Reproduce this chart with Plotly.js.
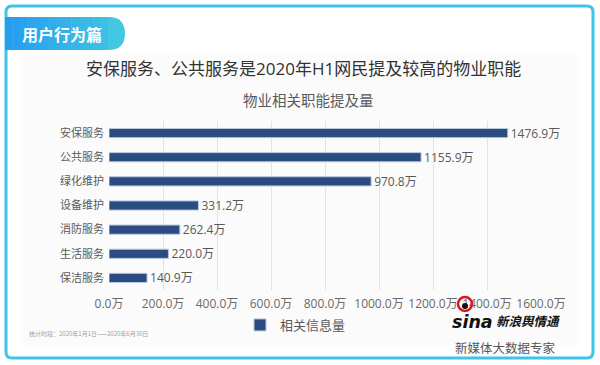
<!DOCTYPE html>
<html>
<head>
<meta charset="utf-8">
<script src="https://cdn.plot.ly/plotly-3.0.1.min.js"></script>
<style>
html,body{margin:0;padding:0;background:#fff;}
#chart{width:600px;height:365px;}
</style>
</head>
<body>
<div id="chart"></div>
<script>
// ---- data ----
const categories = ["安保服务", "公共服务", "绿化维护", "设备维护", "消防服务", "生活服务", "保洁服务"];
const values = [1476.9, 1155.9, 970.8, 331.2, 262.4, 220.0, 140.9];
const tickValues = [0, 200, 400, 600, 800, 1000, 1200, 1400, 1600];
const tickLabels = ["0.0万", "200.0万", "400.0万", "600.0万", "800.0万", "1000.0万", "1200.0万", "1400.0万", "1600.0万"];
const seriesName = "相关信息量";
const badgeText = "用户行为篇";
const titleText = "安保服务、公共服务是2020年H1网民提及较高的物业职能";
const subtitleText = "物业相关职能提及量";
const footnoteText = "统计时段：2020年1月1日——2020年6月30日";
const sloganText = "新媒体大数据专家";

// ---- geometry helpers (pixel -> paper) ----
const W = 600, H = 365;
const M = {l: 109, r: 59, t: 121, b: 75};
const PW = W - M.l - M.r, PH = H - M.t - M.b;
const px = x => (x - M.l) / PW;
const py = y => 1 - (y - M.t) / PH;

const FONT = "Open Sans, Noto Sans CJK SC, sans-serif";
const CJK = "Noto Sans CJK SC, sans-serif";

const shapes = [];
// light background panel
shapes.push({type: "rect", xref: "paper", yref: "paper", layer: "below",
  x0: px(20), x1: px(580), y0: py(55), y1: py(345),
  fillcolor: "#fbfbfb", line: {width: 0}});

// rounded border
function roundRect(x0, y0, x1, y1, r) {
  const X = px, Y = py;
  return `M${X(x0 + r)},${Y(y0)} L${X(x1 - r)},${Y(y0)} Q${X(x1)},${Y(y0)} ${X(x1)},${Y(y0 + r)} ` +
    `L${X(x1)},${Y(y1 - r)} Q${X(x1)},${Y(y1)} ${X(x1 - r)},${Y(y1)} ` +
    `L${X(x0 + r)},${Y(y1)} Q${X(x0)},${Y(y1)} ${X(x0)},${Y(y1 - r)} ` +
    `L${X(x0)},${Y(y0 + r)} Q${X(x0)},${Y(y0)} ${X(x0 + r)},${Y(y0)} Z`;
}
shapes.push({type: "path", xref: "paper", yref: "paper", layer: "above",
  path: roundRect(6, 6, 593, 358, 6), line: {color: "#3ec4e6", width: 3}});

// badge with horizontal gradient (strips)
const c0 = [38, 156, 240], c1 = [66, 200, 226];
const bx0 = 5, bx1 = 108, by0 = 17, by1 = 50, nStrips = 14;
for (let i = 0; i < nStrips; i++) {
  const t = (i + 0.5) / nStrips * (bx1 - bx0) / (125 - bx0);
  const col = `rgb(${c0.map((v, k) => Math.round(v + (c1[k] - v) * t)).join(",")})`;
  shapes.push({type: "rect", xref: "paper", yref: "paper", layer: "above",
    x0: px(bx0 + (bx1 - bx0) * i / nStrips), x1: px(bx0 + (bx1 - bx0) * (i + 1) / nStrips + 0.5),
    y0: py(by1), y1: py(by0), fillcolor: col, line: {width: 0}});
}
const rEnd = (by1 - by0) / 2;
shapes.push({type: "path", xref: "paper", yref: "paper", layer: "above",
  path: `M${px(bx1)},${py(by0)} L${px(125 - rEnd)},${py(by0)} Q${px(125)},${py(by0)} ${px(125)},${py(by0 + rEnd)} ` +
        `Q${px(125)},${py(by1)} ${px(125 - rEnd)},${py(by1)} L${px(bx1)},${py(by1)} Z`,
  fillcolor: "rgb(66,200,226)", line: {width: 0}});

// sina eye logo
shapes.push({type: "circle", xref: "paper", yref: "paper", layer: "above",
  x0: px(458), x1: px(472), y0: py(311), y1: py(297),
  fillcolor: "rgba(0,0,0,0)", line: {color: "#e0141e", width: 2.5}});
shapes.push({type: "circle", xref: "paper", yref: "paper", layer: "above",
  x0: px(462), x1: px(468), y0: py(309), y1: py(303),
  fillcolor: "#111", line: {width: 0}});

const annotations = [
  {text: "<b>" + badgeText + "</b>", x: px(20), y: py(33.5), xanchor: "left", yanchor: "middle",
   font: {family: CJK, size: 16, color: "#ffffff"}},
  {text: titleText, x: px(303), y: py(68), xanchor: "center", yanchor: "middle",
   font: {family: FONT, size: 17, color: "#333333"}},
  {text: subtitleText, x: px(308), y: py(99), xanchor: "center", yanchor: "middle",
   font: {family: CJK, size: 14.5, color: "#595959"}},
  {text: footnoteText, x: px(27), y: py(333), xanchor: "left", yanchor: "middle",
   font: {family: CJK, size: 6, color: "#a0a0a0"}},
  {text: "<b><i>sina</i></b>", x: px(450), y: py(321), xanchor: "left", yanchor: "middle",
   height: 17,
   font: {family: "DejaVu Sans, sans-serif", size: 17.5, color: "#111"}},
  {text: "<b><i>新浪舆情通</i></b>", x: px(494), y: py(320.5), xanchor: "left", yanchor: "middle",
   height: 15,
   font: {family: CJK, size: 12.5, color: "#111"}},
  {text: sloganText, x: px(505), y: py(347), xanchor: "center", yanchor: "middle",
   font: {family: CJK, size: 12.5, color: "#555555"}}
].map(a => Object.assign({xref: "paper", yref: "paper", showarrow: false}, a));

const trace = {
  type: "bar",
  orientation: "h",
  name: seriesName,
  y: categories,
  x: values,
  marker: {color: "#2b4c7e", line: {color: "#b8c8e2", width: 1}},
  texttemplate: "%{x:.1f}万",
  textposition: "outside",
  constraintext: "none",
  cliponaxis: false,
  textfont: {family: FONT, size: 12, color: "#595959"},
  hoverinfo: "skip",
  showlegend: true
};

const layout = {
  width: W, height: H,
  margin: M,
  paper_bgcolor: "#ffffff",
  plot_bgcolor: "rgba(0,0,0,0)",
  bargap: 0.62,
  font: {family: FONT},
  xaxis: {
    range: [0, 1600],
    tickvals: tickValues,
    ticktext: tickLabels,
    showgrid: true, gridcolor: "#e3e3e3", gridwidth: 1,
    zeroline: false, showline: false,
    ticks: "outside", ticklen: 3, tickcolor: "rgba(0,0,0,0)",
    tickfont: {family: FONT, size: 12, color: "#6a6a6a"},
    fixedrange: true
  },
  yaxis: {
    type: "category",
    autorange: "reversed",
    showgrid: false, zeroline: false, showline: false, ticks: "",
    tickfont: {family: CJK, size: 11, color: "#595959"},
    ticklabelstandoff: 4,
    fixedrange: true
  },
  legend: {
    orientation: "h",
    x: px(240), y: py(310), xanchor: "left", yanchor: "top",
    font: {family: CJK, size: 13, color: "#595959"},
    itemwidth: 30,
    bgcolor: "rgba(0,0,0,0)"
  },
  shapes: shapes,
  annotations: annotations
};

Plotly.newPlot("chart", [trace], layout, {displayModeBar: false, staticPlot: true});
</script>
</body>
</html>
